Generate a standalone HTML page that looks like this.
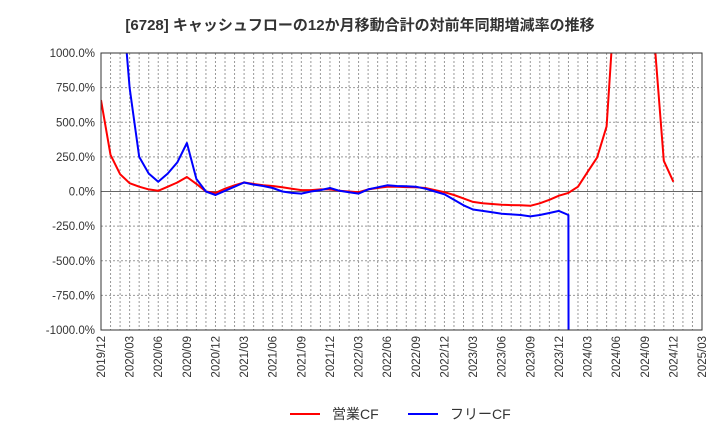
<!DOCTYPE html>
<html><head><meta charset="utf-8"><style>
html,body{margin:0;padding:0;background:#fff;overflow:hidden;width:720px;height:440px;font-family:"Liberation Sans","Noto Sans CJK JP",sans-serif}
svg{display:block}
svg text{font-family:"Liberation Sans","Noto Sans CJK JP",sans-serif}
</style></head><body>
<svg id="chart" width="720" height="440">
<text x="360" y="30" text-anchor="middle" font-size="15" font-weight="bold" fill="#333">[6728]  キャッシュフローの12か月移動合計の対前年同期増減率の推移</text>
<defs><clipPath id="clip"><rect x="101" y="53" width="601" height="277"/></clipPath></defs>
<g id="grid"></g><g id="yaxis"></g><g id="xaxis"></g>
<g id="series" clip-path="url(#clip)"></g>
<rect x="101" y="53" width="601" height="277" fill="none" stroke="#333"/>
<g>
<line x1="290" y1="414" x2="320" y2="414" stroke="#f00" stroke-width="2"/>
<text x="332" y="419" font-size="14" fill="#333">営業CF</text>
<line x1="408" y1="414" x2="438" y2="414" stroke="#00f" stroke-width="2"/>
<text x="450" y="419" font-size="14" fill="#333">フリーCF</text>
</g>
</svg>
<script>
const yTicks=[1000,750,500,250,0,-250,-500,-750,-1000];
const xLabels=["2019/12","2020/03","2020/06","2020/09","2020/12","2021/03","2021/06","2021/09","2021/12","2022/03","2022/06","2022/09","2022/12","2023/03","2023/06","2023/09","2023/12","2024/03","2024/06","2024/09","2024/12","2025/03"];
const operatingCF=[660,265,125,60,35,15,5,35,65,105,55,0,-10,20,45,65,55,45,40,30,20,10,10,15,15,5,0,-5,15,25,35,35,32,30,25,10,-5,-25,-50,-75,-85,-90,-95,-98,-100,-103,-85,-60,-30,-10,35,140,245,470,1530,1500,1500,1500,1100,222,70];
const freeCF=[null,null,1580,750,250,130,70,130,210,350,90,0,-25,5,35,65,50,40,25,0,-10,-15,0,10,25,5,-5,-15,15,30,45,40,38,35,20,0,-20,-60,-100,-130,-140,-150,-160,-165,-170,-180,-170,-155,-140,-170,-60000];
const NS="http://www.w3.org/2000/svg";
const L=101,R=702,T=53,B=330,N=63;
const xs=i=>L+(R-L)*i/N;
const ys=v=>B-(v+1000)/2000*(B-T);
function mk(tag,attrs,parent){const e=document.createElementNS(NS,tag);for(const k in attrs)e.setAttribute(k,attrs[k]);document.getElementById(parent).appendChild(e);return e;}
for(let i=1;i<N;i++){
 const l=mk('line',{x1:xs(i),x2:xs(i),y1:T,y2:B,stroke:'#999','stroke-dasharray':'2,2','stroke-width':1},'grid');
 
 
}
yTicks.forEach(v=>{
 const y=ys(v);
 const l=mk('line',{x1:L,x2:R,y1:y,y2:y,stroke:v===0?'#666':'#999','stroke-dasharray':v===0?'':'2,2','stroke-width':1},'grid');
 
 
 const t=mk('text',{x:L-6,y:y+4,'text-anchor':'end','font-size':11.5,fill:'#333'},'yaxis');
 t.textContent=v.toFixed(1)+'%';
 
 
});
xLabels.forEach((s,k)=>{
 const x=xs(k*3);
 const t=mk('text',{transform:`translate(${x+4},${B+6}) rotate(-90)`,'text-anchor':'end','font-size':11.5,fill:'#333'},'xaxis');
 t.textContent=s;
 
 
});
function drawSeries(arr,color,name){
 let d='',pen=false;
 arr.forEach((v,i)=>{if(v===null){pen=false;return;}d+=(pen?'L':'M')+xs(i).toFixed(1)+','+ys(v).toFixed(1);pen=true;});
 const p=mk('path',{d:d,fill:'none',stroke:color,'stroke-width':2,'stroke-linejoin':'round'},'series');
 
 
}
drawSeries(operatingCF,'#f00','operating-cf-line');
drawSeries(freeCF,'#00f','free-cf-line');
</script>
</body></html>
